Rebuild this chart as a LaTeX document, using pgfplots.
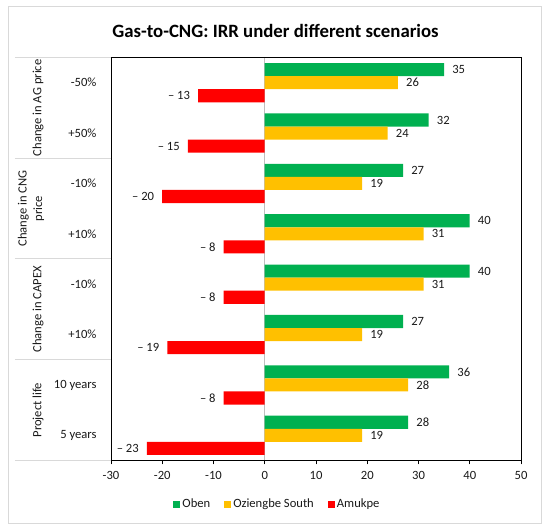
\documentclass[border=0pt]{standalone}
\usepackage{pgfplots}
\pgfplotsset{compat=1.18}
\usepackage{fontspec}
\setmainfont{Carlito}
\definecolor{cgreen}{HTML}{00B050}
\definecolor{cyellow}{HTML}{FFC000}
\definecolor{cred}{HTML}{FF0000}
\definecolor{frame}{HTML}{D9D9D9}
\begin{document}
\begin{tikzpicture}[x=1pt,y=1pt]
\path (0,0) rectangle (550,532);
\draw[frame, line width=1pt] (8,8.5) rectangle (541,525);
\node[font=\bfseries\fontsize{18.8}{22}\selectfont] at (275.5,501.3) {Gas-to-CNG: IRR under different scenarios};
\begin{axis}[
  at={(111pt,71.5pt)}, anchor=south west,
  scale only axis, width=410pt, height=403pt,
  xmin=-30, xmax=50, ymin=-0.5, ymax=7.5,
  clip=false,
  xbar, bar width=0.26,
  axis line style={black, line width=0.9pt},
  xtick={-30,-20,...,50},
  ytick={0,...,7},
  yticklabels={5 years,10 years,+10\%,-10\%,+10\%,-10\%,+50\%,-50\%},
  ytick style={draw=none},
  xtick pos=bottom, xtick align=outside,
  major tick length=4pt,
  xtick style={black, line width=0.9pt},
  tick label style={font=\fontsize{12.6}{14}\selectfont, text=black!90},
  xticklabel style={yshift=-3pt},
  yticklabel style={xshift=-7pt},
  /pgf/number format/assume math mode=true,
  point meta=explicit symbolic,
  nodes near coords,
  legend columns=3,
  legend style={draw=none, at={(0.406,-0.108)}, anchor=center,
    font=\fontsize{12.6}{14}\selectfont, text=black!90,
    /tikz/every even column/.append style={column sep=12pt},
    nodes={inner sep=2pt}},
  legend image code/.code={\fill[#1] (0pt,-3.5pt) rectangle (7pt,3.5pt);},
]
\draw[black!25, line width=0.8pt] (axis cs:0,-0.5) -- (axis cs:0,7.5);
\draw[frame, line width=1pt] ([xshift=-96pt]axis cs:-30,-0.5) -- (axis cs:-30,-0.5);
\draw[frame, line width=1pt] ([xshift=-96pt]axis cs:-30,1.5) -- (axis cs:-30,1.5);
\draw[frame, line width=1pt] ([xshift=-96pt]axis cs:-30,3.5) -- (axis cs:-30,3.5);
\draw[frame, line width=1pt] ([xshift=-96pt]axis cs:-30,5.5) -- (axis cs:-30,5.5);
\draw[frame, line width=1pt] ([xshift=-96pt]axis cs:-30,7.5) -- (axis cs:-30,7.5);
\addplot[fill=cgreen, draw=none, bar shift=0.26,
  every node near coord/.append style={anchor=west, font=\fontsize{12.6}{14}\selectfont, text=black!90, inner sep=8pt}] coordinates {
  (35,7) [35] (32,6) [32] (27,5) [27] (40,4) [40]
  (40,3) [40] (27,2) [27] (36,1) [36] (28,0) [28]};
\addplot[fill=cyellow, draw=none, bar shift=0,
  every node near coord/.append style={anchor=west, font=\fontsize{12.6}{14}\selectfont, text=black!90, inner sep=8pt}] coordinates {
  (26,7) [26] (24,6) [24] (19,5) [19] (31,4) [31]
  (31,3) [31] (19,2) [19] (28,1) [28] (19,0) [19]};
\addplot[fill=cred, draw=none, bar shift=-0.26,
  every node near coord/.append style={anchor=east, font=\fontsize{12.6}{14}\selectfont, text=black!90, inner sep=8pt}] coordinates {
  (-13,7) [– 13] (-15,6) [– 15] (-20,5) [– 20] (-8,4) [– 8]
  (-8,3) [– 8] (-19,2) [– 19] (-8,1) [– 8] (-23,0) [– 23]};
\legend{Oben, Oziengbe South, Amukpe}
\node[rotate=90, font=\fontsize{12.6}{14}\selectfont, text=black!90] at ([xshift=-73pt]axis cs:-30,6.5) {Change in AG price};
\node[rotate=90, align=center, font=\fontsize{12.6}{15.5}\selectfont, text=black!90] at ([xshift=-80pt]axis cs:-30,4.5) {Change in CNG\\price};
\node[rotate=90, font=\fontsize{12.6}{14}\selectfont, text=black!90] at ([xshift=-73pt]axis cs:-30,2.5) {Change in CAPEX};
\node[rotate=90, font=\fontsize{12.6}{14}\selectfont, text=black!90] at ([xshift=-73pt]axis cs:-30,0.5) {Project life};
\end{axis}
\end{tikzpicture}
\end{document}
